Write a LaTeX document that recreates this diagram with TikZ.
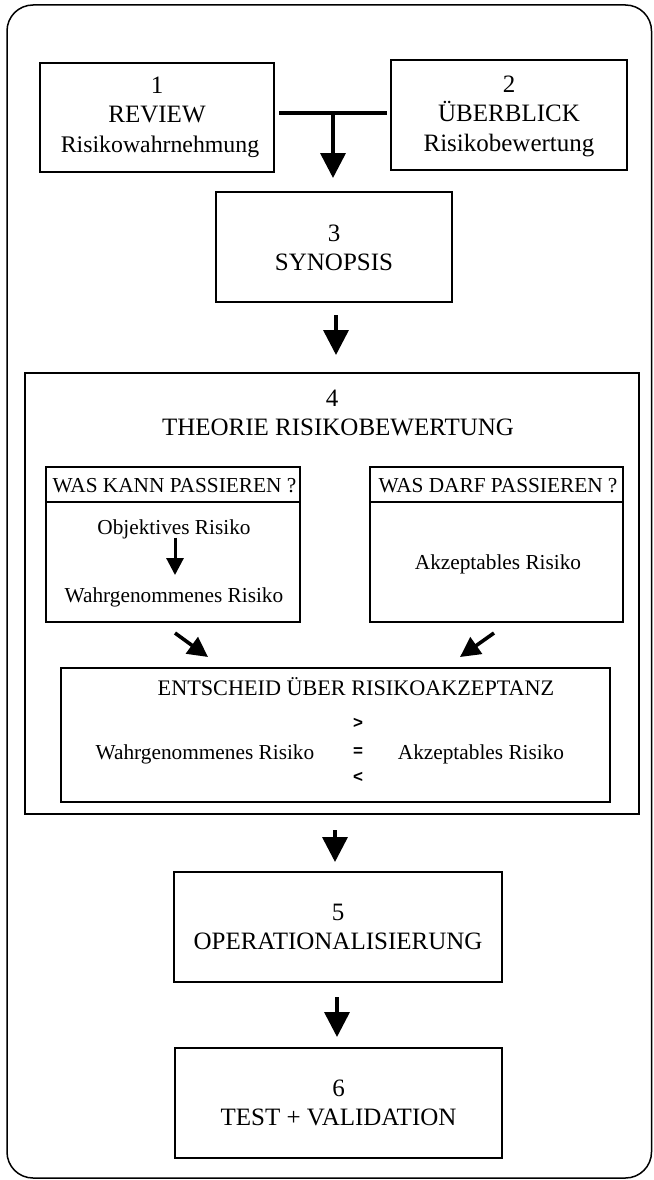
\documentclass[tikz,border=0pt]{standalone}
\usepackage{fontspec}
\setmainfont{Liberation Serif}
\newfontfamily\cmpfont{Liberation Sans}
\usetikzlibrary{arrows.meta}
\begin{document}
\begin{tikzpicture}[x=1pt,y=-1pt,
  box/.style={draw, line width=1.6pt, inner sep=0pt, outer sep=0pt},
  txt/.style={inner sep=0pt, anchor=base, font=\fontsize{25}{30}\selectfont},
  stxt/.style={inner sep=0pt, anchor=base, font=\fontsize{21.3}{26}\selectfont},
  htxt/.style={inner sep=0pt, anchor=base, font=\fontsize{22.2}{26}\selectfont},
  cmp/.style={inner sep=0pt, font=\cmpfont\bfseries\fontsize{17}{20}\selectfont},
  bigarr/.style={line width=3.6pt, -{Triangle[width=25pt,length=25pt]}},
  joinline/.style={line width=3.4pt},
  diagarr/.style={line width=3.6pt, -{Triangle[width=20pt,length=20pt]}},
  smallarr/.style={line width=3pt, -{Triangle[width=17pt,length=17pt]}},
  hline/.style={line width=1.6pt},
]
\useasboundingbox (0,0) rectangle (653,1180);
\draw[line width=1.5pt, rounded corners=26pt] (7,5) rectangle (651.5,1178);

% box 1
\node[box, minimum width=234pt, minimum height=109pt] (b1) at (157,117.5) {};
\node[txt] (t1a) at (157,94) {1};
\node[txt] (t1b) at (157,123) {REVIEW};
\node[txt, font=\fontsize{23.8}{30}\selectfont] (t1c) at (160,152) {Risikowahrnehmung};
% box 2
\node[box, minimum width=236pt, minimum height=110pt] (b2) at (509,115) {};
\node[txt] (t2a) at (509,93) {2};
\node[txt] (t2b) at (509,122) {ÜBERBLICK};
\node[txt] (t2c) at (509,151) {Risikobewertung};
% box 3
\node[box, minimum width=236pt, minimum height=110pt] (b3) at (334,247) {};
\node[txt] (t3a) at (334,241) {3};
\node[txt] (t3b) at (334,270) {SYNOPSIS};
% box 4
\node[box, minimum width=614pt, minimum height=441pt] (b4) at (332,593.5) {};
\node[txt] (t4a) at (332,406) {4};
\node[txt] (t4b) at (338,435) {THEORIE RISIKOBEWERTUNG};
% sub boxes
\node[box, minimum width=254pt, minimum height=155pt] (sl) at (173,544.5) {};
\draw[hline] (sl.west |- 0,502) -- (sl.east |- 0,502);
\node[stxt] (slh) at (174.5,492) {WAS KANN PASSIEREN ?};
\node[stxt] (obj) at (174,534) {Objektives Risiko};
\node[stxt] (wr1) at (174,602) {Wahrgenommenes Risiko};
\draw[smallarr, shorten <=-1pt, shorten >=12pt] (obj.south -| 175,0) -- (wr1.north -| 175,0);

\node[box, minimum width=253pt, minimum height=155pt] (sr) at (496.5,544.5) {};
\draw[hline] (sr.west |- 0,502) -- (sr.east |- 0,502);
\node[stxt] (srh) at (498,492) {WAS DARF PASSIEREN ?};
\node[stxt] (akz1) at (498,569) {Akzeptables Risiko};

% decision box
\node[box, minimum width=549pt, minimum height=134pt] (ent) at (335.5,735) {};
\node[htxt] (enth) at (356,695) {ENTSCHEID ÜBER RISIKOAKZEPTANZ};
\node[stxt] (wr2) at (205,759) {Wahrgenommenes Risiko};
\node[stxt] (akz2) at (481,759) {Akzeptables Risiko};
\node[cmp] (gt) at (358,723) {>};
\node[cmp] (eq) at (358,752) {=};
\node[cmp] (lt) at (358,777) {<};

% diagonal arrows
\coordinate (dl1) at (175,633);
\coordinate (dl2) at (208,657);
\coordinate (dr1) at (494,633);
\coordinate (dr2) at (460,657);
\draw[diagarr] (dl1) -- (dl2);
\draw[diagarr] (dr1) -- (dr2);

% box 5
\node[box, minimum width=328pt, minimum height=110pt] (b5) at (338,927) {};
\node[txt] (t5a) at (338,920) {5};
\node[txt] (t5b) at (338,949) {OPERATIONALISIERUNG};
% box 6
\node[box, minimum width=327pt, minimum height=110pt] (b6) at (338.5,1103) {};
\node[txt] (t6a) at (338.5,1096) {6};
\node[txt] (t6b) at (338.5,1125) {TEST + VALIDATION};

% connectors
\coordinate (j) at (333,113);
\draw[joinline, shorten <=5pt, shorten >=4pt] (b1.east |- j) -- (b2.west |- j);
\draw[bigarr, shorten >=14pt] (j) -- (j |- b3.north);
\draw[bigarr, shorten <=13pt, shorten >=18pt] (b3.south -| 336,0) -- (b4.north -| 336,0);
\draw[bigarr, shorten <=16pt, shorten >=10pt] (b4.south -| 335,0) -- (b5.north -| 335,0);
\draw[bigarr, shorten <=15pt, shorten >=11pt] (b5.south -| 337,0) -- (b6.north -| 337,0);
\end{tikzpicture}
\end{document}
